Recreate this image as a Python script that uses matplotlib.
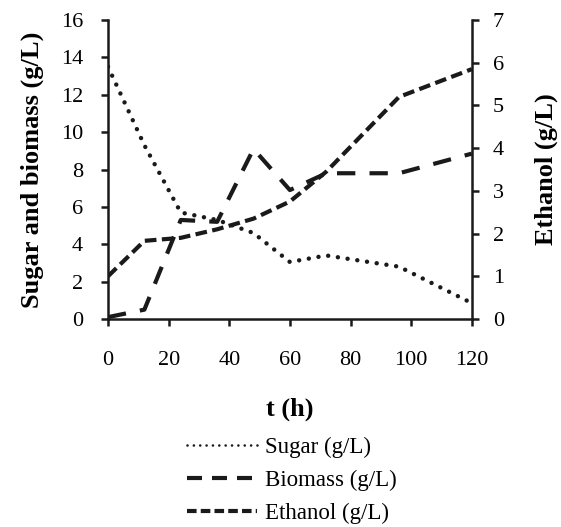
import matplotlib
matplotlib.use("Agg")
import matplotlib.pyplot as plt
from matplotlib.lines import Line2D

plt.rcParams['font.family'] = ['Liberation Serif', 'DejaVu Serif']

# Data
t_hours = [0, 12, 24, 36, 48, 60, 72, 96, 120]
sugar = [13.5, 9.3, 5.7, 5.3, 4.6, 3.05, 3.4, 2.8, 0.85]
biomass = [0.1, 0.5, 5.3, 5.2, 9.1, 6.9, 7.8, 7.8, 8.85]
ethanol = [1.0, 1.83, 1.9, 2.1, 2.35, 2.75, 3.45, 5.2, 5.85]

x_ticks = [0, 20, 40, 60, 80, 100, 120]
left_ticks = [0, 2, 4, 6, 8, 10, 12, 14, 16]
right_ticks = [0, 1, 2, 3, 4, 5, 6, 7]

fig = plt.figure(figsize=(5.61, 5.27), dpi=100)
ax = fig.add_axes([0.1925, 0.3947, 0.6485, 0.5673])
ax2 = ax.twinx()

lw = 3.0
col = '#1a1a1a'
ax.plot(t_hours, sugar, color=col, lw=3.2, linestyle=(0, (0.01, 2.2)),
        dash_capstyle='round')
ax.plot(t_hours, biomass, color=col, lw=lw, linestyle=(0, (4.4, 3.4)))
ax2.plot(t_hours, ethanol, color=col, lw=lw, linestyle=(0, (2.8, 1.3)))

for a in (ax, ax2):
    a.set_xlim(0, 120)
    a.spines['top'].set_visible(False)
    for s in ('left', 'right', 'bottom'):
        a.spines[s].set_linewidth(1.8)
        a.spines[s].set_color(col)
ax.spines['right'].set_visible(False)
ax2.spines['left'].set_visible(False)
ax2.spines['bottom'].set_visible(False)

ax.set_ylim(0, 16)
ax2.set_ylim(0, 7)
ax.set_xticks(x_ticks)
ax.set_yticks(left_ticks)
ax2.set_yticks(right_ticks)

ax.tick_params(axis='both', direction='out', length=5, width=1.8, labelsize=16, color=col)
ax.tick_params(axis='x', pad=18)
ax.tick_params(axis='y', pad=13)
ax2.tick_params(axis='y', direction='out', length=5, width=1.8, labelsize=16, pad=10, color=col)

ax.set_xlabel('t (h)', fontsize=19, fontweight='bold', labelpad=20)
ax.set_ylabel('Sugar and biomass (g/L)', fontsize=19, fontweight='bold', labelpad=12)
ax2.set_ylabel('Ethanol (g/L)', fontsize=19, fontweight='bold', labelpad=22)

handles = [
    Line2D([], [], color=col, lw=1.9, linestyle=(0, (0.01, 2.4)), dash_capstyle='round'),
    Line2D([], [], color=col, lw=lw, linestyle=(0, (3.6, 2.4))),
    Line2D([], [], color=col, lw=lw, linestyle=(0, (2.3, 1.0))),
]
labels = ['Sugar (g/L)', 'Biomass (g/L)', 'Ethanol (g/L)']
fig.legend(handles, labels, loc='upper left', bbox_to_anchor=(0.333, 0.172),
           frameon=False, fontsize=16.5, handlelength=3.05, handletextpad=0.35,
           labelspacing=0.52, borderaxespad=0, borderpad=0)

fig.savefig('out.png', dpi=100)
